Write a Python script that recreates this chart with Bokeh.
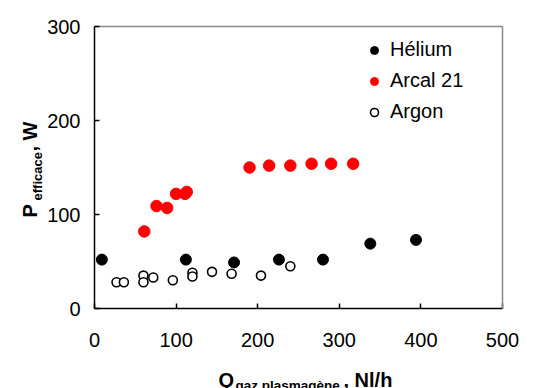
import math
from bokeh.plotting import figure
from bokeh.models import Label, Range1d, FixedTicker, LinearAxis
from bokeh.embed import file_html
from bokeh.resources import INLINE

# Data
helium_x = [9, 112, 171, 226, 280, 338, 394]
helium_y = [52, 52, 49, 52, 52, 69, 73]
arcal_x = [61, 76, 89, 100, 111, 113, 190, 214, 240, 266, 290, 317]
arcal_y = [82, 109, 107, 122, 122, 124, 150, 152, 152, 154, 154, 154]
argon_x = [27, 36, 60, 60, 72, 96, 120, 120, 144, 168, 204, 240]
argon_y = [28, 28, 35, 28, 33, 30, 38, 34, 39, 37, 35, 45]
x_ticks = [0, 100, 200, 300, 400, 500]
y_ticks = [0, 100, 200, 300]
series_names = ["Hélium", "Arcal 21", "Argon"]

FONT = "Liberation Sans"

# Canvas / plot-area geometry (pixels)
W, H = 533, 388
PX_L, PX_R, PX_T, PX_B = 94, 502, 26, 308
X0, X1 = x_ticks[0], x_ticks[-1]
Y0, Y1 = y_ticks[0], y_ticks[-1]
sx = (PX_R - PX_L) / (X1 - X0)
sy = (PX_B - PX_T) / (Y1 - Y0)

def dx(px):
    return X0 + (px - PX_L) / sx

def dy(py):
    return Y0 + (PX_B - py) / sy

p = figure(width=W, height=H, output_backend="svg", toolbar_location=None,
           x_range=Range1d(dx(0), dx(W)), y_range=Range1d(dy(H), dy(0)),
           min_border=0, min_border_left=0, min_border_right=0,
           min_border_top=0, min_border_bottom=0)
p.xgrid.visible = False
p.ygrid.visible = False
p.background_fill_color = "white"
p.border_fill_color = "white"
p.outline_line_color = None

for ax, ticks in ((p.xaxis, x_ticks), (p.yaxis, y_ticks)):
    ax.ticker = FixedTicker(ticks=ticks)
    ax.major_tick_in = 5
    ax.major_tick_out = 0
    ax.minor_tick_line_color = None
    ax.axis_line_color = "black"
    ax.axis_line_width = 1.5
    ax.major_tick_line_color = "black"
    ax.major_tick_line_width = 1.5
    ax.major_label_text_font = FONT
    ax.major_label_text_font_size = "20px"
    ax.major_label_text_color = "black"
p.xaxis.fixed_location = Y0
p.xaxis.bounds = (X0, X1)
p.yaxis.fixed_location = X0
p.yaxis.bounds = (Y0, Y1)
p.xaxis.major_label_standoff = 24
p.yaxis.major_label_standoff = 14

# gray top and right frame edges
top_ax = LinearAxis(fixed_location=Y1, bounds=(X0, X1), ticker=FixedTicker(ticks=[]),
                    axis_line_color="#8a8a8a", axis_line_width=1.5,
                    major_tick_line_color=None, minor_tick_line_color=None)
right_ax = LinearAxis(fixed_location=X1, bounds=(Y0, Y1), ticker=FixedTicker(ticks=[]),
                      axis_line_color="#8a8a8a", axis_line_width=1.5,
                      major_tick_line_color=None, minor_tick_line_color=None)
p.add_layout(top_ax, "above")
p.add_layout(right_ax, "right")

p.scatter(helium_x, helium_y, size=11, fill_color="black", line_color="black",
          legend_label=series_names[0])
p.scatter(arcal_x, arcal_y, size=11.5, fill_color="red", line_color="red",
          legend_label=series_names[1])
p.scatter(argon_x, argon_y, size=9, fill_color="white", line_color="black",
          line_width=1.6, legend_label=series_names[2])

lg = p.legend[0]
lg.location = (364, 265)
lg.border_line_color = None
lg.background_fill_alpha = 0
lg.padding = 0
lg.margin = 0
lg.glyph_width = 20
lg.glyph_height = 20
lg.label_height = 20
lg.spacing = 8
lg.label_standoff = 6
lg.label_text_font = FONT
lg.label_text_font_size = "20px"
lg.label_text_color = "black"

# Axis titles with subscripts
def lab(text, px, py, size, angle=0.0):
    p.add_layout(Label(x=dx(px), y=dy(py), text=text, angle=angle, text_font=FONT,
                       text_font_size=size, text_font_style="bold",
                       text_align="left", text_baseline="alphabetic",
                       text_color="black"))

half_pi = math.pi / 2
lab("P", 29.5, 217, "20px", half_pi)
lab("efficace", 37, 200, "13px", half_pi)
lab(", W", 29.5, 151, "20px", half_pi)

lab("Q", 218, 379, "20px")
lab("gaz plasmagène", 235, 385, "13.5px")
lab(", Nl/h", 343, 379, "20px")

open("out.html", "w").write(file_html(p, INLINE))
